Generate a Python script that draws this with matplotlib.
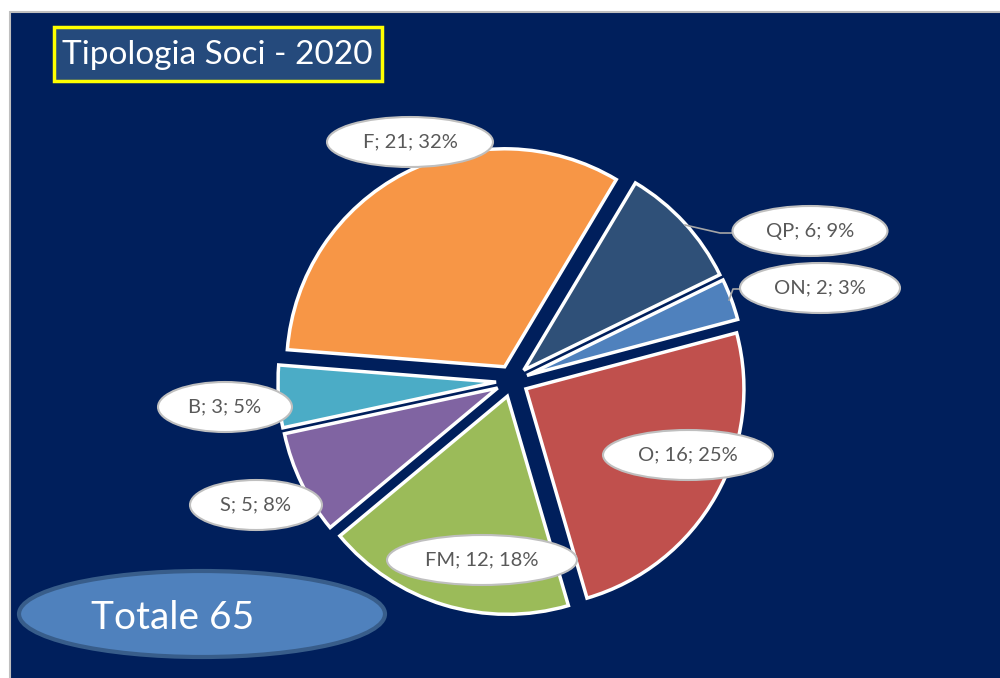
import matplotlib.pyplot as plt
from matplotlib.patches import Ellipse, Rectangle

# Tipologia soci 2020
categorie = ["F", "QP", "ON", "O", "FM", "S", "B"]
valori = [21, 6, 2, 16, 12, 5, 3]
colori = ["#F79646", "#2F5078", "#4F81BD", "#C0504D", "#9BBB59", "#8064A2", "#4BACC6"]
totale = sum(valori)

# label bubble positions (pixel coords, y from top) and widths
pos_etichette = [(410, 142), (810, 231), (820, 288), (688, 455), (482, 560), (256, 505), (225, 407)]
larg_etichette = [166, 155, 160, 170, 190, 132, 134]

H = 678
fig = plt.figure(figsize=(10, 6.78), dpi=100)
fig.patch.set_facecolor("white")
ax = fig.add_axes([0, 0, 1, 1])

# navy background panel
ax.add_patch(Rectangle((10, -2), 995, H - 12 + 2, facecolor="#001F5C",
                       edgecolor="#BFBFBF", lw=1.5, zorder=0))

ax.pie(valori, colors=colori, startangle=175.5, counterclock=False,
       center=(512, H - 381), radius=218, explode=[16] * len(valori),
       wedgeprops=dict(edgecolor="white", linewidth=2.5), frame=True)
ax.set_xlim(0, 1000)
ax.set_ylim(0, H)
ax.set_aspect("equal")
ax.axis("off")

# leader lines for the small slices
ax.plot([685, 720, 733], [H - 225, H - 233, H - 233], color="#A6A6A6", lw=1.2, zorder=3)
ax.plot([729, 733, 741], [H - 300, H - 289, H - 289], color="#A6A6A6", lw=1.2, zorder=3)

for cat, v, (x, y), w in zip(categorie, valori, pos_etichette, larg_etichette):
    pct = round(v / totale * 100)
    ax.add_patch(Ellipse((x, H - y), w, 50, facecolor="white", edgecolor="#BFBFBF",
                         lw=1.5, zorder=4))
    ax.text(x, H - y, f"{cat}; {v}; {pct}%", ha="center", va="center",
            fontsize=14.5, color="#595959", family="Lato", zorder=5)

# title box
ax.add_patch(Rectangle((54, H - 81), 328, 54, facecolor="#254A7C",
                       edgecolor="#FFFF00", lw=2.5, zorder=4))
ax.text(217, H - 55, "Tipologia Soci - 2020", ha="center", va="center",
        fontsize=24, color="white", family="Lato", zorder=5)

# totale bubble
ax.add_patch(Ellipse((202, H - 614), 366, 86, facecolor="#4F81BD",
                     edgecolor="#385D8A", lw=3, zorder=4))
ax.text(173, H - 618, f"Totale {totale}", ha="center", va="center",
        fontsize=28, color="white", family="Lato", zorder=5)

fig.savefig("out.png", dpi=100)
